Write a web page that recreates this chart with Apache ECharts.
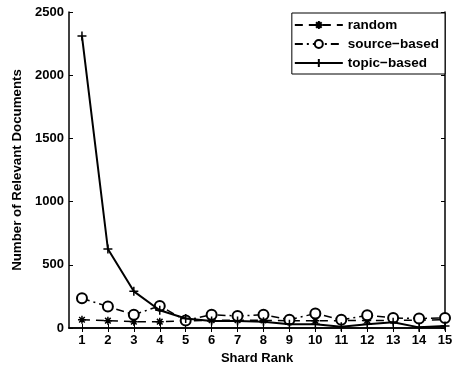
<!DOCTYPE html>
<html><head><meta charset="utf-8">
<script src="https://cdn.jsdelivr.net/npm/echarts@6/dist/echarts.min.js"></script>
<style>html,body{margin:0;padding:0;background:#fff}#c{width:459px;height:365px}</style>
</head><body><div id="c"></div>
<script>
const ranks = [1,2,3,4,5,6,7,8,9,10,11,12,13,14,15];
const randomVals = [65,58,50,50,55,62,62,60,58,58,58,60,60,62,65];
const sourceVals = [235,170,105,175,60,105,95,105,65,115,65,100,80,75,80];
const topicVals = [2310,625,290,140,75,55,55,50,30,30,10,30,45,5,15];
const yTicks = [0,500,1000,1500,2000,2500];
const xTitle = 'Shard Rank';
const yTitle = 'Number of Relevant Documents';

const pts = v => ranks.map((r,i)=>[r,v[i]]);
const font = {fontFamily:'Liberation Sans, Arial, sans-serif', fontWeight:'bold', fontSize:13, color:'#000'};
const axLine = {show:true, lineStyle:{color:'#000', width:1.5}};
const plus = 'path://M0,-5L0,5M-5,0L5,0';
const star = 'path://M0,-5L0,5M-5,0L5,0M-3.5,-3.5L3.5,3.5M-3.5,3.5L3.5,-3.5';

const chart = echarts.init(document.getElementById('c'), null, {renderer:'canvas'});
chart.setOption({
  animation:false,
  backgroundColor:'#fff',
  grid:{left:69, right:14, top:12, bottom:37, containLabel:false, outerBoundsMode:'none'},
  legend:{
    right:14, top:13, orient:'vertical', itemWidth:48, itemHeight:10, itemGap:5,
    padding:[5,6,4,2], borderColor:'#000', borderWidth:1, backgroundColor:'#fff',
    textStyle:{...font, fontSize:13.5},
    data:['random','source\u2212based','topic\u2212based']
  },
  xAxis:[{
    type:'value', min:0.5, max:15, position:'bottom',
    name:xTitle, nameLocation:'middle', nameGap:21, nameTextStyle:font,
    axisLine:axLine, splitLine:{show:false},
    axisTick:{show:true, inside:true, length:4, customValues:ranks, lineStyle:{color:'#000'}},
    axisLabel:{...font, margin:6, customValues:ranks}
  },{
    type:'value', min:0.5, max:15, position:'top',
    axisLine:axLine, splitLine:{show:false},
    axisTick:{show:true, inside:true, length:4, customValues:ranks, lineStyle:{color:'#000'}},
    axisLabel:{show:false}
  }],
  yAxis:[{
    type:'value', min:0, max:2500, interval:500, position:'left',
    name:yTitle, nameLocation:'middle', nameGap:37, nameTextStyle:{...font, fontSize:13.3},
    axisLine:axLine, splitLine:{show:false},
    axisTick:{show:true, inside:true, length:4, lineStyle:{color:'#000'}},
    axisLabel:{...font, margin:5, formatter:v=>String(v), customValues:yTicks}
  },{
    type:'value', min:0, max:2500, interval:500, position:'right',
    axisLine:axLine, splitLine:{show:false},
    axisTick:{show:true, inside:true, length:4, lineStyle:{color:'#000'}},
    axisLabel:{show:false}
  }],
  series:[{
    name:'random', type:'line', data:pts(randomVals), symbol:star, symbolSize:8,
    lineStyle:{color:'#000', width:1.5, type:[8,6]},
    itemStyle:{color:'#000', borderColor:'#000', borderWidth:1.5}, z:3
  },{
    name:'source\u2212based', type:'line', data:pts(sourceVals), symbol:'emptyCircle', symbolSize:10,
    lineStyle:{color:'#000', width:1.5, type:[8,4,2,4]},
    itemStyle:{color:'#000', borderColor:'#000', borderWidth:1.5}, z:4
  },{
    name:'topic\u2212based', type:'line', data:pts(topicVals), symbol:plus, symbolSize:9,
    lineStyle:{color:'#000', width:2},
    itemStyle:{color:'#000', borderColor:'#000', borderWidth:1.5}, z:5
  }]
});
</script></body></html>
